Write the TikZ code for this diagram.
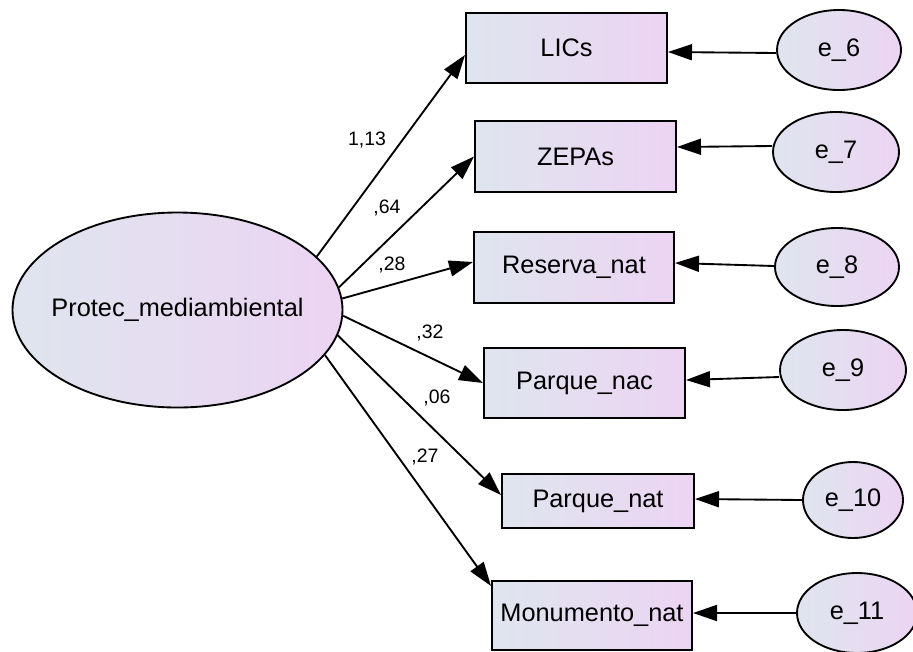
\documentclass[tikz,border=0pt]{standalone}
\usepackage{fontspec}
\setmainfont{Liberation Sans}
\usetikzlibrary{shapes.geometric,arrows.meta}
\definecolor{fillL}{RGB}{223,229,238}
\definecolor{fillR}{RGB}{236,212,243}
\tikzset{
  obs/.style={draw=black, line width=1.5pt, rectangle, inner sep=0pt,
    left color=fillL, right color=fillR,
    font=\fontsize{19pt}{22pt}\selectfont},
  lat/.style={draw=black, line width=1.4pt, ellipse, inner sep=0pt,
    left color=fillL, right color=fillR,
    font=\fontsize{19pt}{22pt}\selectfont},
  path/.style={draw=black, line width=1.4pt,
    -{Triangle[length=18pt,width=12pt]}},
  coef/.style={font=\fontsize{14.6pt}{17pt}\selectfont, inner sep=0pt}
}
\begin{document}
\begin{tikzpicture}[x=0.75pt,y=-0.75pt]
\useasboundingbox (0,0) rectangle (913,651);
\fill[white] (0,0) rectangle (913,651);

% latent factor (label in a zero-width box so the ellipse keeps its set size)
\node[lat, minimum width=330*0.75pt, minimum height=195*0.75pt] (p) at (177.5,310) {\makebox[0pt]{Protec\_mediambiental}};

% observed indicators
\node[obs, minimum width=201*0.75pt, minimum height=70*0.75pt] (lics) at (566.5,48) {LICs};
\node[obs, minimum width=201*0.75pt, minimum height=71*0.75pt] (zepas) at (575.5,156.5) {ZEPAs};
\node[obs, minimum width=200*0.75pt, minimum height=71*0.75pt] (res) at (574,267.5) {Reserva\_nat};
\node[obs, minimum width=201*0.75pt, minimum height=70*0.75pt] (pnac) at (584.5,383) {Parque\_nac};
\node[obs, minimum width=192*0.75pt, minimum height=54*0.75pt] (pnat) at (598,501) {Parque\_nat};
\node[obs, minimum width=200*0.75pt, minimum height=69*0.75pt] (mon) at (592,615.5) {Monumento\_nat};

% error terms
\node[lat, minimum width=124*0.75pt, minimum height=80*0.75pt] (e6) at (839,50) {\makebox[0pt]{e\_6}};
\node[lat, minimum width=126*0.75pt, minimum height=80*0.75pt] (e7) at (836,152) {\makebox[0pt]{e\_7}};
\node[lat, minimum width=124*0.75pt, minimum height=78*0.75pt] (e8) at (837,267) {\makebox[0pt]{e\_8}};
\node[lat, minimum width=126*0.75pt, minimum height=80*0.75pt] (e9) at (843,370) {\makebox[0pt]{e\_9}};
\node[lat, minimum width=100*0.75pt, minimum height=76*0.75pt] (e10) at (853,500) {\makebox[0pt]{e\_10}};
\node[lat, minimum width=120*0.75pt, minimum height=80*0.75pt] (e11) at (857,613) {\makebox[0pt]{e\_11}};

% factor loadings
\draw[path] (p.21.5) -- (lics.west |- 0,55);
\draw[path] (p.8.9) -- (zepas.west);
\draw[path] (p.4.1) -- (res.west |- 0,262);
\draw[path] (p.-2.8) -- (pnac.west);
\draw[path] (p.-9.7) -- (pnat.west |- 0,495);
\draw[path] (p.-17.2) -- (mon.west |- 0,586);

% error paths
\draw[path] (e6.west |- 0,53) -- (lics.east |- 0,52);
\draw[path] (e7.west |- 0,146) -- (zepas.east |- 0,147);
\draw[path] (e8.west |- 0,266) -- (res.east |- 0,263);
\draw[path] (e9.west |- 0,377) -- (pnac.east |- 0,380);
\draw[path] (e10.west |- 0,500) -- (pnat.east |- 0,499);
\draw[path] (e11.west |- 0,613) -- (mon.east |- 0,613);

% coefficients
\node[coef] (c1) at (367,140) {1,13};
\node[coef] (c2) at (387,208) {,64};
\node[coef] (c3) at (392,265) {,28};
\node[coef] (c4) at (430,333) {,32};
\node[coef] (c5) at (437,398) {,06};
\node[coef] (c6) at (425,457) {,27};
\end{tikzpicture}
\end{document}
